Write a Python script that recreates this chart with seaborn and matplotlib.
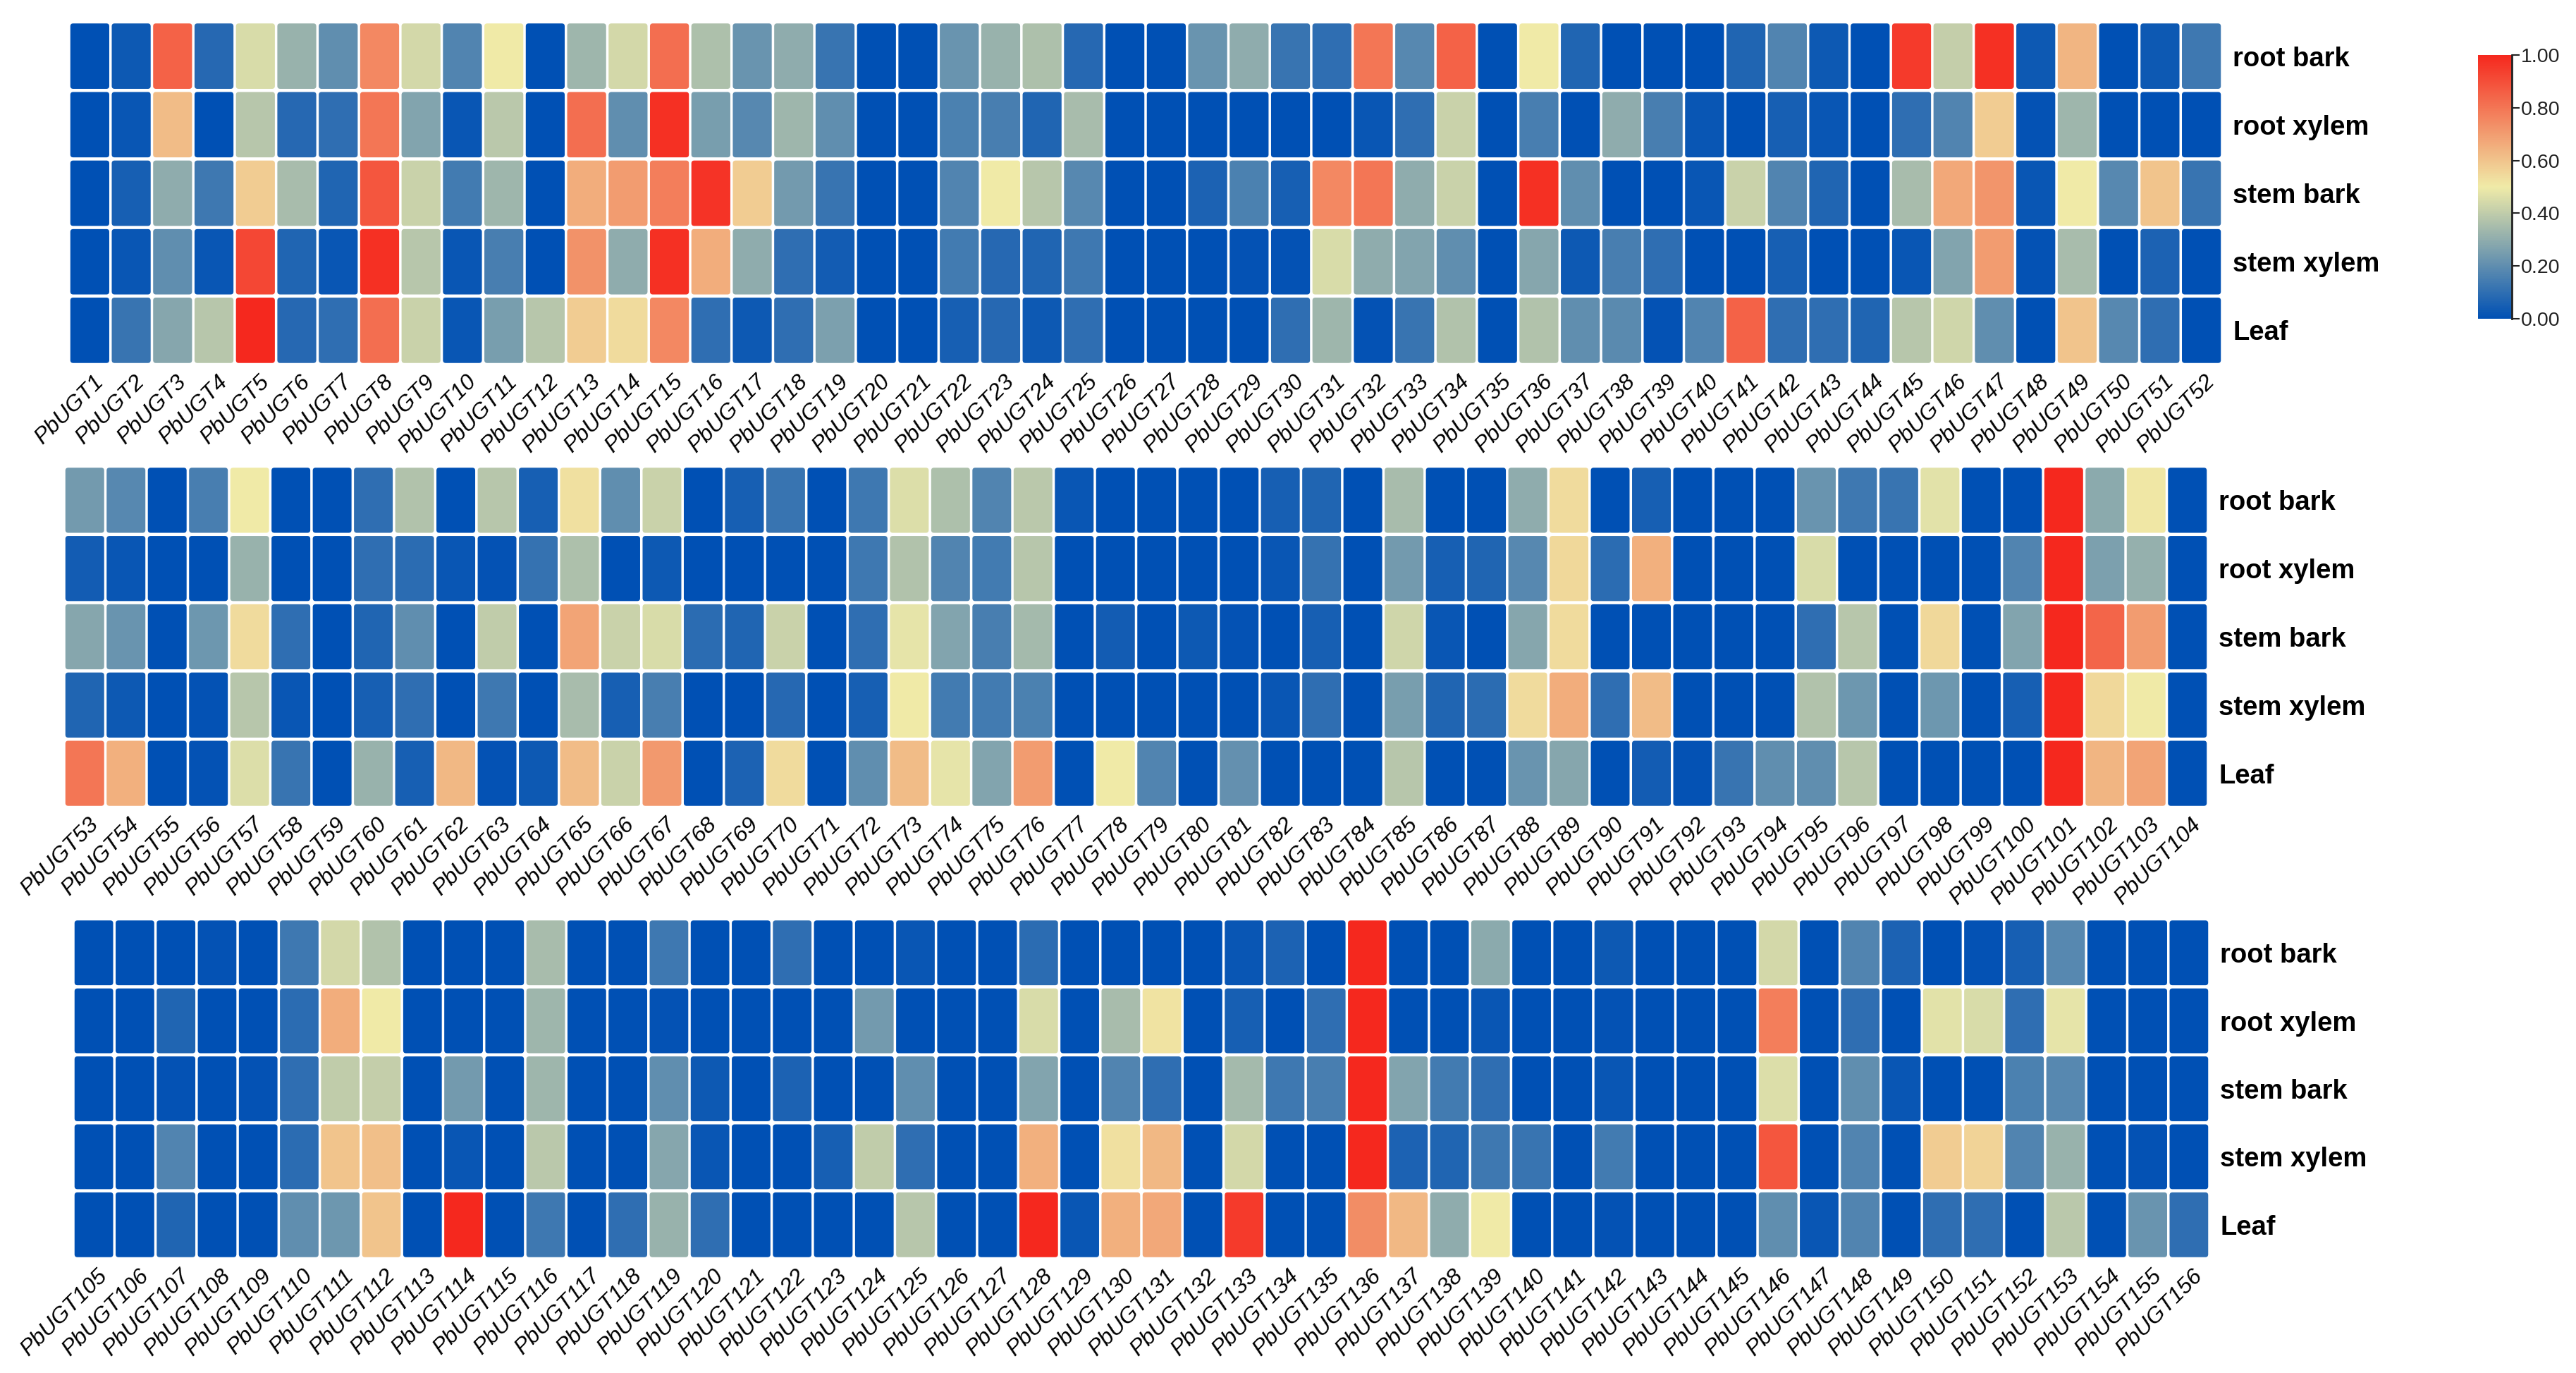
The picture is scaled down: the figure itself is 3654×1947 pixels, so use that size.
#!/usr/bin/env python3
"""Expression heatmap of the PbUGT genes in five poplar tissues"""

import matplotlib
matplotlib.use('Agg')
import matplotlib.pyplot as plt
from matplotlib.colors import LinearSegmentedColormap
from matplotlib.patches import FancyBboxPatch
from matplotlib.transforms import ScaledTranslation
import numpy as np
import pandas as pd
import seaborn as sns

sns.set_theme(style='white')
plt.rcParams['font.family'] = ['Liberation Sans', 'DejaVu Sans']

tissues = ['root bark', 'root xylem', 'stem bark', 'stem xylem', 'Leaf']
colorbar_ticks = [0.0, 0.2, 0.4, 0.6, 0.8, 1.0]

# one line per gene, same order as tissues
panel1_values = [
    [0, 0, 0, 0, 0], [.03, .02, .05, .02, .12], [.85, .62, .3, .2, .28], [.08, 0, .13, .02, .38],
    [.45, .38, .58, .92, 1], [.32, .08, .35, .07, .08], [.2, .1, .07, .02, .1], [.75, .8, .88, .98, .82],
    [.44, .27, .42, .38, .42], [.17, .02, .14, .02, .02], [.5, .39, .33, .15, .25], [0, 0, 0, 0, .38],
    [.33, .82, .66, .73, .58], [.44, .2, .7, .3, .54], [.82, .98, .78, .98, .75], [.36, .25, .97, .66, .1],
    [.22, .18, .58, .3, .03], [.3, .33, .24, .1, .1], [.12, .2, .12, .04, .26], [0, 0, 0, 0, 0],
    [0, 0, 0, 0, 0], [.22, .16, .17, .14, .05], [.32, .15, .5, .08, .08], [.36, .07, .38, .07, .03],
    [.08, .35, .18, .13, .1], [0, 0, 0, 0, 0], [0, 0, 0, 0, 0], [.22, 0, .06, 0, 0],
    [.3, 0, .16, .01, 0], [.12, 0, .05, .01, .1], [.1, 0, .75, .45, .33], [.8, .02, .8, .3, .01],
    [.18, .1, .3, .27, .12], [.85, .42, .42, .2, .37], [0, 0, 0, 0, 0], [.5, .15, .98, .28, .37],
    [.07, 0, .2, .03, .2], [0, .3, 0, .15, .19], [0, .15, 0, .1, .01], [0, .02, .02, 0, .17],
    [.07, 0, .42, 0, .85], [.17, .05, .17, .05, .1], [.03, .02, .07, 0, .1], [0, 0, 0, 0, .07],
    [.95, .1, .35, .02, .38], [.41, .17, .67, .27, .43], [.98, .58, .72, .7, .2], [.03, .01, .02, .01, 0],
    [.64, .33, .5, .35, .6], [0, 0, .18, 0, .18], [.03, 0, .6, .06, .1], [.13, 0, .12, 0, 0],
]
panel2_values = [
    [.24, .04, .28, .07, .8], [.18, .02, .22, .03, .65], [0, 0, 0, 0, 0], [.15, 0, .23, .01, .01],
    [.5, .32, .54, .38, .46], [0, 0, .1, .02, .12], [0, 0, 0, 0, 0], [.1, .1, .07, .05, .32],
    [.37, .09, .2, .1, .05], [0, .02, 0, 0, .63], [.38, .01, .4, .13, .01], [.05, .11, 0, 0, .03],
    [.53, .36, .68, .35, .62], [.2, 0, .42, .05, .42], [.42, .03, .45, .15, .71], [0, 0, .09, 0, 0],
    [.05, 0, .07, 0, .06], [.12, 0, .42, .08, .54], [0, 0, 0, 0, 0], [.13, .13, .1, .05, .2],
    [.46, .37, .48, .5, .62], [.36, .17, .27, .14, .48], [.17, .14, .15, .14, .27], [.39, .38, .34, .16, .7],
    [.02, 0, 0, 0, 0], [0, 0, .04, 0, .5], [0, 0, 0, 0, .17], [0, 0, .03, 0, 0],
    [0, 0, .01, 0, .21], [.05, .02, 0, .02, 0], [.07, .11, .05, .1, 0], [0, 0, 0, 0, 0],
    [.35, .24, .43, .25, .38], [0, .05, .02, .07, 0], [0, .07, 0, .09, 0], [.3, .18, .28, .54, .22],
    [.54, .55, .54, .66, .28], [0, .09, 0, .1, 0], [.05, .65, 0, .62, .04], [0, 0, 0, 0, .01],
    [0, 0, 0, 0, .12], [0, 0, 0, 0, .2], [.22, .45, .1, .37, .2], [.13, 0, .38, .23, .38],
    [.12, 0, 0, 0, 0], [.47, 0, .55, .23, 0], [0, 0, 0, 0, 0], [0, .17, .27, .05, 0],
    [1, 1, 1, 1, 1], [.29, .26, .84, .55, .64], [.51, .31, .7, .5, .68], [0, 0, 0, 0, 0],
]
panel3_values = [
    [0, 0, 0, 0, 0], [0, 0, 0, 0, 0], [0, .07, .01, .17, .07], [.01, 0, 0, 0, 0],
    [0, 0, .01, 0, 0], [.13, .09, .1, .09, .2], [.44, .66, .4, .6, .23], [.37, .5, .41, .61, .6],
    [0, 0, 0, 0, 0], [0, 0, .24, .02, 1], [0, 0, 0, 0, 0], [.35, .33, .33, .39, .13],
    [0, 0, 0, 0, 0], [0, 0, 0, 0, .1], [.13, .01, .2, .28, .32], [0, 0, .03, .02, .1],
    [0, 0, 0, 0, 0], [.1, 0, .06, 0, 0], [0, 0, 0, .05, 0], [0, .24, 0, .4, 0],
    [.02, 0, .2, .1, .38], [0, 0, 0, 0, 0], [0, 0, 0, 0, 0], [.09, .45, .27, .65, 1],
    [0, 0, 0, 0, .02], [0, .35, .17, .53, .65], [0, .52, .1, .63, .67], [0, 0, 0, 0, 0],
    [.02, .05, .34, .44, .95], [.06, 0, .13, 0, 0], [0, .1, .15, 0, 0], [1, 1, 1, 1, .74],
    [0, 0, .27, .06, .63], [0, 0, .14, .07, .3], [.29, .02, .1, .13, .5], [0, 0, 0, .12, 0],
    [0, 0, 0, 0, 0], [.03, .01, .02, .14, .01], [0, 0, 0, 0, 0], [0, 0, 0, 0, 0],
    [0, 0, 0, 0, 0], [.44, .78, .46, .88, .2], [0, 0, 0, 0, .02], [.17, .1, .2, .17, .17],
    [.06, 0, .02, 0, 0], [0, .47, 0, .58, .1], [.01, .45, 0, .56, .1], [.05, .1, .16, .17, 0],
    [.18, .48, .18, .32, .39], [0, 0, 0, 0, 0], [0, 0, 0, .01, .22], [0, 0, 0, 0, .1],
]

FIG_W, FIG_H = 3654, 1947
DPI = 100

# pixel boxes of the three panels: left, top, right, bottom
panel_boxes = [(98, 31, 3152, 517), (91, 661, 3132, 1145), (104, 1303, 3134, 1785)]

cmap = LinearSegmentedColormap.from_list('blue_yellow_red', ['#0050B4', '#F0EBA8', '#F5281E'])


def px_axes(fig, left, top, right, bottom):
    """Add axes from a box given in figure pixels"""
    return fig.add_axes([left / FIG_W, 1 - bottom / FIG_H, (right - left) / FIG_W, (bottom - top) / FIG_H])


def round_cells(ax, mesh, values, x_scale, y_scale):
    """Swap the flat heatmap cells for rounded boxes in the colours seaborn picked"""
    mesh.update_scalarmappable()
    colors = mesh.get_facecolor().reshape(values.shape[0], values.shape[1], 4)
    gap_x, gap_y = 3.5 / x_scale, 4.5 / y_scale
    for row in range(values.shape[0]):
        for col in range(values.shape[1]):
            ax.add_patch(FancyBboxPatch(
                (col + gap_x / 2, row + gap_y / 2), 1 - gap_x, 1 - gap_y,
                boxstyle=f'round,pad=0,rounding_size={4 / x_scale}',
                mutation_aspect=x_scale / y_scale,
                facecolor=colors[row, col], edgecolor='none'))
    mesh.set_visible(False)


fig = plt.figure(figsize=(FIG_W / DPI, FIG_H / DPI), dpi=DPI, facecolor='white')
cax = px_axes(fig, 3515, 78, 3563, 452)

start = 1
colorbar = None
for i, (box, panel) in enumerate(zip(panel_boxes, [panel1_values, panel2_values, panel3_values])):
    values = np.array(panel).T
    genes = [f'PbUGT{n}' for n in range(start, start + values.shape[1])]
    start += values.shape[1]
    df = pd.DataFrame(values, index=tissues, columns=genes)

    ax = px_axes(fig, *box)
    sns.heatmap(df, vmin=0, vmax=1, cmap=cmap, ax=ax, cbar=i == 0,
                cbar_ax=cax if i == 0 else None,
                cbar_kws={'ticks': colorbar_ticks, 'format': '%.2f'} if i == 0 else None,
                xticklabels=True, yticklabels=True)
    mesh = ax.collections[0]
    if i == 0:
        colorbar = mesh.colorbar
    round_cells(ax, mesh, values,
                (box[2] - box[0]) / values.shape[1], (box[3] - box[1]) / values.shape[0])

    ax.yaxis.tick_right()
    ax.tick_params(axis='y', length=0, pad=11, labelright=True, labelleft=False)
    ax.tick_params(axis='x', length=0, pad=7)
    y_shift = ScaledTranslation(0, -4 / DPI, fig.dpi_scale_trans)
    for label in ax.get_yticklabels():
        label.set(rotation=0, fontsize=27.5, fontweight='bold', color='black', va='center')
        label.set_transform(label.get_transform() + y_shift)
    x_shift = ScaledTranslation(4 / DPI, 0, fig.dpi_scale_trans)
    for label in ax.get_xticklabels():
        label.set(rotation=45, ha='right', va='top', rotation_mode='anchor',
                  fontsize=23, fontstyle='italic', color='black')
        label.set_transform(label.get_transform() + x_shift)
    ax.set_xlabel('')
    ax.set_ylabel('')

# colour bar
colorbar.outline.set_visible(False)
cax.spines['right'].set_visible(True)
cax.spines['right'].set_color('#222222')
cax.spines['right'].set_linewidth(2)
cax.tick_params(axis='y', right=True, length=8, width=1.5, color='#222222', pad=1,
                labelsize=20.5, labelcolor='#222222')

plt.savefig('out.png', dpi=DPI, facecolor='white')
plt.close()
